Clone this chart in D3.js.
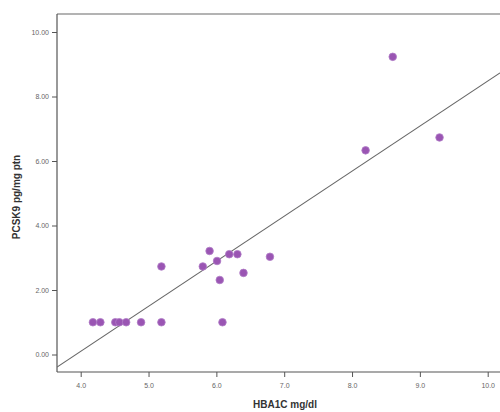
<!DOCTYPE html>
<html><head><meta charset="utf-8">
<script src="https://cdn.jsdelivr.net/npm/d3@7"></script>
<style>body{margin:0;background:#fff}svg{display:block}</style>
</head><body>
<script>
const hba1c = [4.18,4.29,4.51,4.57,4.67,4.89,5.19,6.09,5.19,5.80,5.90,6.01,6.05,6.19,6.31,6.40,6.79,8.20,8.60,9.29];
const pcsk9 = [1.0,1.0,1.0,1.0,1.0,1.0,1.0,1.0,2.73,2.73,3.21,2.90,2.31,3.11,3.11,2.53,3.03,6.33,9.23,6.73];
const xTicks = [4,5,6,7,8,9,10];
const yTicks = [0,2,4,6,8,10];
const fitIntercept = -5.49, fitSlope = 1.397;

(function(){
const W=500,H=412;
const svg=d3.select("body").append("svg").attr("width",W).attr("height",H);
const pl=57, pt=14, pb=372, pr=500;
const x=d3.scaleLinear().domain([4,10]).range([80.7,487.7]);
const y=d3.scaleLinear().domain([0,10]).range([354.5,32]);

svg.append("line").attr("x1",pl).attr("x2",pr).attr("y1",pt).attr("y2",pt)
  .attr("stroke","#9a9a9a").attr("stroke-width",1.5);

const xAxis=d3.axisBottom(x).tickValues(xTicks).tickFormat(d3.format(".1f")).tickSize(5).tickSizeOuter(0);
const gx=svg.append("g").attr("transform",`translate(0,${pb})`).call(xAxis);
gx.select(".domain").attr("d",`M${pl},0H${pr}`);
const yAxis=d3.axisLeft(y).tickValues(yTicks).tickFormat(d3.format(".2f")).tickSize(5).tickSizeOuter(0);
const gy=svg.append("g").attr("transform",`translate(${pl},0)`).call(yAxis);
gy.select(".domain").attr("d",`M0,${pt}V${pb}`);
svg.selectAll(".domain").attr("stroke","#555").attr("stroke-width",1.2);
svg.selectAll(".tick line").attr("stroke","#555");
svg.selectAll(".tick text").attr("fill","#666").style("font-family","Liberation Sans, Arial, sans-serif").style("font-size","7px");
gx.selectAll(".tick text").attr("dy","1.1em");

svg.append("clipPath").attr("id","clip").append("rect")
  .attr("x",pl).attr("y",pt).attr("width",pr-pl).attr("height",pb-pt);
const x0=x.invert(pl), x1=x.invert(pr);
svg.append("line").attr("clip-path","url(#clip)")
  .attr("x1",x(x0)).attr("y1",y(fitIntercept+fitSlope*x0))
  .attr("x2",x(x1)).attr("y2",y(fitIntercept+fitSlope*x1))
  .attr("stroke","#666").attr("stroke-width",1.1);

svg.append("g").selectAll("circle").data(hba1c).join("circle")
  .attr("cx",(d)=>x(d)).attr("cy",(d,i)=>y(pcsk9[i])).attr("r",3.8)
  .attr("fill","#9a55b3").attr("stroke","#b07cc6").attr("stroke-width",0.8);

svg.append("text").attr("x",285).attr("y",408).attr("text-anchor","middle")
  .style("font-family","Liberation Sans, Arial, sans-serif").style("font-weight","bold").style("font-size","10px")
  .attr("fill","#333").text("HBA1C mg/dl");
svg.append("text").attr("transform","translate(20,197) rotate(-90)").attr("text-anchor","middle")
  .style("font-family","Liberation Sans, Arial, sans-serif").style("font-weight","bold").style("font-size","10px")
  .attr("fill","#333").text("PCSK9 pg/mg ptn");
})();
</script>
</body></html>
